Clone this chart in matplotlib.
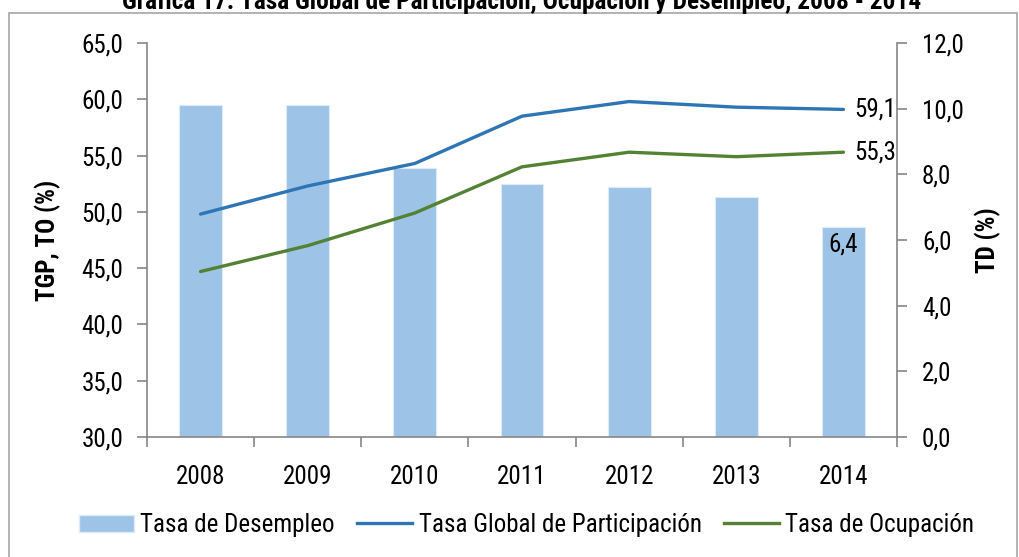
import numpy as np
import matplotlib
matplotlib.use("Agg")
import matplotlib.pyplot as plt
from matplotlib import font_manager
from matplotlib.ticker import FuncFormatter, FixedLocator
from matplotlib.patches import Rectangle, Patch
from matplotlib.lines import Line2D

# a narrow font if one is around, otherwise plain Liberation Sans
installed = {f.name for f in font_manager.fontManager.ttflist}
narrow = [n for n in ('Liberation Sans Narrow', 'Arial Narrow', 'Roboto Condensed',
                      'Open Sans Condensed', 'DejaVu Sans Condensed') if n in installed]
if narrow:
    plt.rcParams['font.family'] = [narrow[0], 'DejaVu Sans']
    fs, fs_title = 18.0, 18.3
else:
    plt.rcParams['font.family'] = ['Liberation Sans', 'DejaVu Sans']
    fs, fs_title = 16.3, 15.7

years = ['2008', '2009', '2010', '2011', '2012', '2013', '2014']
desempleo = [10.1, 10.1, 8.2, 7.7, 7.6, 7.3, 6.4]        # TD, right axis
participacion = [49.8, 52.3, 54.3, 58.5, 59.8, 59.3, 59.1]  # TGP
ocupacion = [44.7, 47.0, 49.9, 54.0, 55.3, 54.9, 55.3]      # TO

titulo = 'Gráfica 17. Tasa Global de Participación, Ocupación y Desempleo, 2008 - 2014'

c_bar = '#9DC3E6'
c_tgp = '#2E75B6'
c_to = '#548235'
c_axis = '#868686'

def coma(v, pos):
    return '{:.1f}'.format(v).replace('.', ',')

fig = plt.figure(figsize=(10.19, 5.57), dpi=100)
# outer frame
fig.patches.append(Rectangle((9 / 1019, -0.01), 1008 / 1019, 1 - 13 / 557 + 0.01,
                             transform=fig.transFigure, fill=False,
                             edgecolor='#A6A6A6', lw=1.2))
fig.text(0.512, 1.0 - 2 / 557, titulo, ha='center', va='center',
         fontsize=fs_title, fontweight='bold')

ax1 = fig.add_axes([147 / 1019, 1 - 437 / 557, 750 / 1019, 394 / 557])
ax2 = ax1.twinx()
ax1.set_zorder(ax2.get_zorder() + 1)
ax1.patch.set_visible(False)

x = np.arange(len(years))
ax2.bar(x, desempleo, 0.4, color=c_bar, edgecolor='#DDEBF7', lw=0.8)
ax1.plot(x, participacion, color=c_tgp, lw=2.4, solid_capstyle='round')
ax1.plot(x, ocupacion, color=c_to, lw=2.4, solid_capstyle='round')

ax1.set_ylim(30, 65)
ax1.set_yticks(np.arange(30, 66, 5))
ax2.set_ylim(0, 12)
ax2.set_yticks(np.arange(0, 13, 2))
ax1.yaxis.set_major_formatter(FuncFormatter(coma))
ax2.yaxis.set_major_formatter(FuncFormatter(coma))
ax1.set_xlim(-0.5, len(years) - 0.5)
ax1.set_xticks(x)
ax1.set_xticklabels(years)
ax1.xaxis.set_minor_locator(FixedLocator(np.arange(-0.5, len(years), 1)))

for ax in (ax1, ax2):
    ax.spines['top'].set_visible(False)
    for s in ('left', 'right', 'bottom'):
        ax.spines[s].set_color(c_axis)
        ax.spines[s].set_linewidth(1.2)
ax1.spines['right'].set_visible(False)
ax2.spines['left'].set_visible(False)
ax2.spines['bottom'].set_visible(False)

ax1.tick_params(axis='y', length=7, width=1.2, color=c_axis, labelsize=fs, pad=10)
ax2.tick_params(axis='y', length=7, width=1.2, color=c_axis, labelsize=fs, pad=11)
ax1.tick_params(axis='x', which='major', length=0, labelsize=fs, pad=20)
ax1.tick_params(axis='x', which='minor', length=7, width=1.2, color=c_axis)

ax1.set_ylabel('TGP, TO (%)', fontsize=fs, fontweight='bold', labelpad=15)
ax2.set_ylabel('TD (%)', fontsize=fs, fontweight='bold', labelpad=8)

# data labels
ax1.annotate(coma(participacion[-1], 0), (x[-1], participacion[-1]), xytext=(8, 0),
             textcoords='offset points', va='center', fontsize=fs)
ax1.annotate(coma(ocupacion[-1], 0), (x[-1], ocupacion[-1]), xytext=(8, 0),
             textcoords='offset points', va='center', fontsize=fs)
ax2.annotate(coma(desempleo[-1], 0), (x[-1], desempleo[-1]), xytext=(0, -4),
             textcoords='offset points', ha='center', va='top', fontsize=fs)

handles = [Patch(facecolor=c_bar, edgecolor='#DDEBF7'),
           Line2D([], [], color=c_tgp, lw=2.4),
           Line2D([], [], color=c_to, lw=2.4)]
labels = ['Tasa de Desempleo', 'Tasa Global de Participación', 'Tasa de Ocupación']
fig.legend(handles, labels, loc='center', bbox_to_anchor=(0.517, 1 - 525 / 557),
           ncol=3, frameon=False, fontsize=fs, handlelength=2.2, handletextpad=0.25,
           columnspacing=0.9)

fig.savefig('out.png', dpi=100)
